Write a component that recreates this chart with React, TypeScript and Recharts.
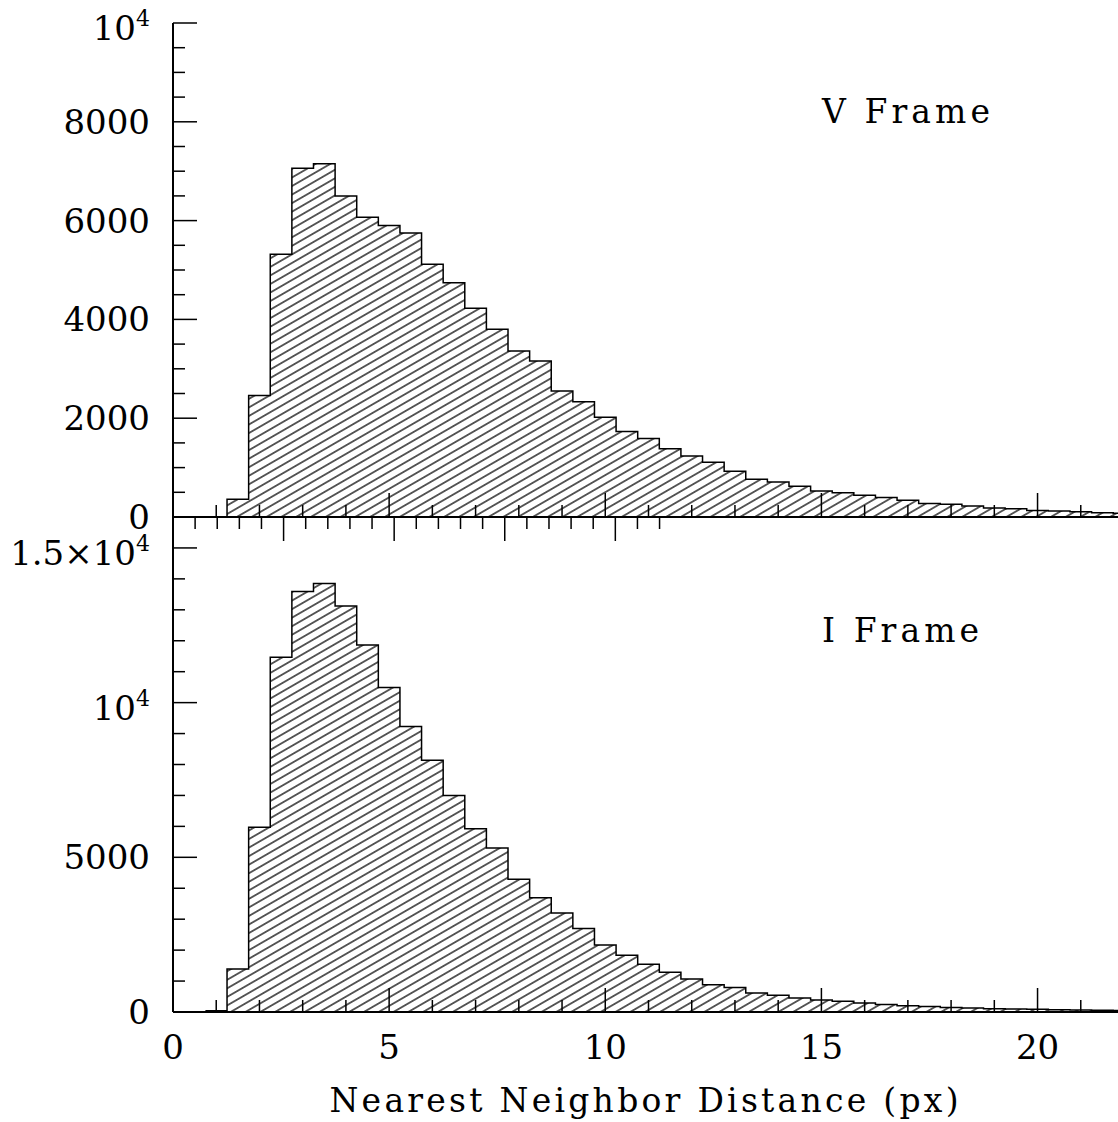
import React from "react";
import { ComposedChart, Area, XAxis, YAxis } from "recharts";

// histogram bins: 0.5 px wide, first bin starts at 0.75 px
const BIN_START = 0.75;
const BIN_WIDTH = 0.5;

const vFrameCounts = [
  0, 360, 2460, 5320, 7060, 7150, 6500, 6070, 5900, 5750, 5115, 4740, 4225,
  3800, 3360, 3160, 2550, 2335, 2020, 1730, 1590, 1380, 1235, 1110, 925, 765,
  710, 620, 525, 490, 440, 395, 340, 275, 260, 225, 180, 165, 130, 122, 105, 88,
  75,
];

const iFrameCounts = [
  40, 1390, 5970, 11470, 13590, 13850, 13120, 11860, 10490, 9230, 8140, 7000,
  5920, 5300, 4290, 3690, 3200, 2695, 2165, 1835, 1540, 1285, 1070, 880, 790,
  614, 540, 453, 385, 350, 290, 240, 200, 180, 145, 132, 108, 95, 86, 75, 65,
  55, 50,
];

const xTicks = [
  0, 1, 2, 3, 4, 5, 6, 7, 8, 9, 10, 11, 12, 13, 14, 15, 16, 17, 18, 19, 20, 21,
  22,
];
const xLabelTicks = [0, 5, 10, 15, 20];

const vTicks = [
  0, 500, 1000, 1500, 2000, 2500, 3000, 3500, 4000, 4500, 5000, 5500, 6000,
  6500, 7000, 7500, 8000, 8500, 9000, 9500, 10000,
];
const vLabels = [
  { value: 0, text: "0" },
  { value: 2000, text: "2000" },
  { value: 4000, text: "4000" },
  { value: 6000, text: "6000" },
  { value: 8000, text: "8000" },
  { value: 10000, text: "10", sup: "4" },
];

const iTicks = [
  0, 1000, 2000, 3000, 4000, 5000, 6000, 7000, 8000, 9000, 10000, 11000, 12000,
  13000, 14000, 15000, 16000,
];
const iLabels = [
  { value: 0, text: "0" },
  { value: 5000, text: "5000" },
  { value: 10000, text: "10", sup: "4" },
  { value: 15000, text: "1.5\u00d710", sup: "4" },
];

const toSteps = (counts: number[]) => {
  const rows = counts.map((v, i) => ({ x: BIN_START + i * BIN_WIDTH, v }));
  rows.push({ x: BIN_START + counts.length * BIN_WIDTH, v: counts[counts.length - 1] });
  return rows;
};

const vData = toSteps(vFrameCounts);
const iData = toSteps(iFrameCounts);

const FONT = "DejaVu Serif";
const axisLine = { stroke: "#000", strokeWidth: 2 };

function XTick(props: any) {
  const { x, y, payload, dir, showLabel } = props;
  const major = xLabelTicks.includes(payload.value);
  const len = major ? 24 : 12;
  return (
    <g>
      <line x1={x} x2={x} y1={y} y2={y + dir * len} stroke="#000" strokeWidth={1.5} />
      {showLabel && major && (
        <text x={x} y={y + 47} textAnchor="middle" fontFamily={FONT} fontSize={34} fill="#000">
          {payload.value}
        </text>
      )}
    </g>
  );
}

function YTick(props: any) {
  const { x, y, payload, dir, labels } = props;
  const lab = labels ? labels.find((l: any) => l.value === payload.value) : null;
  const major = labels ? !!lab : props.majors.includes(payload.value);
  const len = major ? 24 : 12;
  return (
    <g>
      <line x1={x} x2={x + dir * len} y1={y} y2={y} stroke="#000" strokeWidth={1.5} />
      {lab && (
        <text
          x={x - 23}
          y={y + (lab.sup ? 17 : 12)}
          textAnchor="end"
          fontFamily={FONT}
          fontSize={34}
          fill="#000"
        >
          {lab.text}
          {lab.sup && (
            <tspan dy={-14} fontSize={22}>
              {lab.sup}
            </tspan>
          )}
        </text>
      )}
    </g>
  );
}

function Hatch({ id }: { id: string }) {
  return (
    <defs>
      <pattern
        id={id}
        patternUnits="userSpaceOnUse"
        width={20}
        height={7.4}
        patternTransform="rotate(-30)"
      >
        <line x1={0} x2={20} y1={3.7} y2={3.7} stroke="#000" strokeWidth={1.25} />
      </pattern>
    </defs>
  );
}

function Panel(props: any) {
  const { data, yMax, ticks, labels, top, height, margin, bottomH, topH, name, nameY, showX, id } = props;
  const majors = labels.map((l: any) => l.value);
  return (
    <div style={{ position: "absolute", left: 0, top }}>
      <ComposedChart width={1130} height={height} data={data} margin={margin}>
        <Hatch id={id} />
        <XAxis
          xAxisId="b"
          type="number"
          dataKey="x"
          domain={[0, 22]}
          allowDataOverflow
          ticks={xTicks}
          interval={0}
          height={bottomH}
          tickSize={0}
          tickMargin={0}
          tickLine={false}
          axisLine={axisLine}
          tick={<XTick dir={-1} showLabel={showX} />}
          label={
            showX
              ? {
                  value: "Nearest Neighbor Distance (px)",
                  content: () => (
                    <text
                      x={644}
                      y={612}
                      textAnchor="middle"
                      fontFamily={FONT}
                      fontSize={33}
                      fill="#000"
                      textLength={629}
                      lengthAdjust="spacing"
                    >
                      Nearest Neighbor Distance (px)
                    </text>
                  ),
                }
              : undefined
          }
        />
        <XAxis
          xAxisId="t"
          orientation="top"
          type="number"
          domain={[0, 22]}
          allowDataOverflow
          ticks={xTicks}
          interval={0}
          height={topH}
          tickSize={0}
          tickMargin={0}
          tickLine={false}
          axisLine={axisLine}
          tick={<XTick dir={1} showLabel={false} />}
        />
        <YAxis
          yAxisId="l"
          type="number"
          domain={[0, yMax]}
          ticks={ticks}
          interval={0}
          width={173}
          tickSize={0}
          tickMargin={0}
          tickLine={false}
          axisLine={axisLine}
          tick={<YTick dir={1} labels={labels} />}
        />
        <YAxis
          yAxisId="r"
          orientation="right"
          type="number"
          domain={[0, yMax]}
          ticks={ticks}
          interval={0}
          width={6}
          tickSize={0}
          tickMargin={0}
          tickLine={false}
          axisLine={axisLine}
          tick={<YTick dir={-1} majors={majors} />}
        />
        <Area
          xAxisId="b"
          yAxisId="l"
          type="stepAfter"
          dataKey="v"
          stroke="#000"
          strokeWidth={1.5}
          fill={`url(#${id})`}
          fillOpacity={1}
          dot={false}
          activeDot={false}
          isAnimationActive={false}
        />
        <text
          x={822}
          y={nameY}
          fontFamily={FONT}
          fontSize={33}
          fill="#000"
          textLength={name === "V Frame" ? 168 : 157}
          lengthAdjust="spacing"
        >
          {name}
        </text>
      </ComposedChart>
    </div>
  );
}

export default function App() {
  return (
    <div
      style={{
        position: "absolute",
        left: 0,
        top: 0,
        width: 1118,
        height: 1122,
        overflow: "hidden",
        background: "#fff",
      }}
    >
      <Panel
        id="hatchV"
        data={vData}
        yMax={10000}
        ticks={vTicks}
        labels={vLabels}
        top={0}
        height={545}
        margin={{ top: 23, right: 0, bottom: 0, left: 0 }}
        bottomH={28}
        topH={0}
        name="V Frame"
        nameY={123}
        showX={false}
      />
      <Panel
        id="hatchI"
        data={iData}
        yMax={16000}
        ticks={iTicks}
        labels={iLabels}
        top={500}
        height={622}
        margin={{ top: 0, right: 0, bottom: 0, left: 0 }}
        bottomH={110}
        topH={17}
        name="I Frame"
        nameY={142}
        showX={true}
      />
    </div>
  );
}
